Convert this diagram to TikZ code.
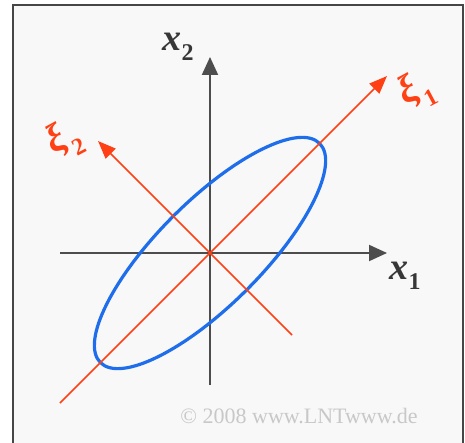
\documentclass[tikz,border=0pt]{standalone}
\usepackage{fontspec}
\setmainfont{Liberation Serif}
\usetikzlibrary{arrows.meta}
\definecolor{bgc}{RGB}{248,248,248}
\definecolor{frc}{RGB}{70,70,70}
\definecolor{axc}{RGB}{77,77,77}
\definecolor{redc}{RGB}{255,64,20}
\definecolor{bluec}{RGB}{30,110,235}
\definecolor{cpc}{RGB}{200,200,200}
\definecolor{lblc}{RGB}{55,55,55}
\tikzset{
  grayaxis/.style={draw=axc,line width=2pt,-{Triangle[length=18pt,width=16pt]}},
  redaxis/.style={draw=redc,line width=1.6pt,-{Triangle[length=18pt,width=14pt]}},
  ellstyle/.style={draw=bluec,line width=3.2pt},
  xlabel/.style={text=lblc,inner sep=0pt},
  xilabel/.style={text=redc,inner sep=0pt,rotate=28},
}
\newcommand{\xlab}[1]{{\fontsize{38}{38}\selectfont\bfseries\itshape x\raisebox{-0.25em}{\fontsize{24}{24}\selectfont\upshape #1}}}
\newcommand{\xilab}[1]{{\fontsize{40}{40}\selectfont\bfseries\itshape ξ\kern2pt\raisebox{-0.32em}{\fontsize{24}{24}\selectfont\upshape #1}}}
\begin{document}
\begin{tikzpicture}[x=1pt,y=1pt]
\useasboundingbox (0,0) rectangle (465,442);
\begin{scope}
  \clip (0,0) rectangle (465,442);
  \fill[white] (0,0) rectangle (465,442);
  \draw[draw=frc,fill=bgc,line width=2pt] (13,-10) rectangle (463,437);
\end{scope}
\coordinate (O) at (210,189);
\coordinate (x1s) at (60,189);
\coordinate (x1e) at (387,189);
\coordinate (x2s) at (210,57);
\coordinate (x2e) at (210,385);
\coordinate (r1s) at (60,39);
\coordinate (r1e) at (387,366);
\coordinate (r2s) at (292,107);
\coordinate (r2e) at (98,301);
\draw[grayaxis] (x1s) -- (x1e);
\draw[grayaxis] (x2s) -- (x2e);
\draw[ellstyle, rotate around={45:(O)}] (O) ellipse (155pt and 52pt);
\draw[redaxis] (r1s) -- (r1e);
\draw[redaxis] (r2s) -- (r2e);
\node[xlabel] (lx1) at (405,166) {\xlab{1}};
\node[xlabel] (lx2) at (178,395) {\xlab{2}};
\node[xilabel] (lxi1) at (416,351) {\xilab{1}};
\node[xilabel] (lxi2) at (64,302) {\xilab{2}};
\node[text=cpc,inner sep=0pt,font=\fontsize{22}{22}\selectfont] (cp) at (299,26) {© 2008 www.LNTwww.de};
\end{tikzpicture}
\end{document}
